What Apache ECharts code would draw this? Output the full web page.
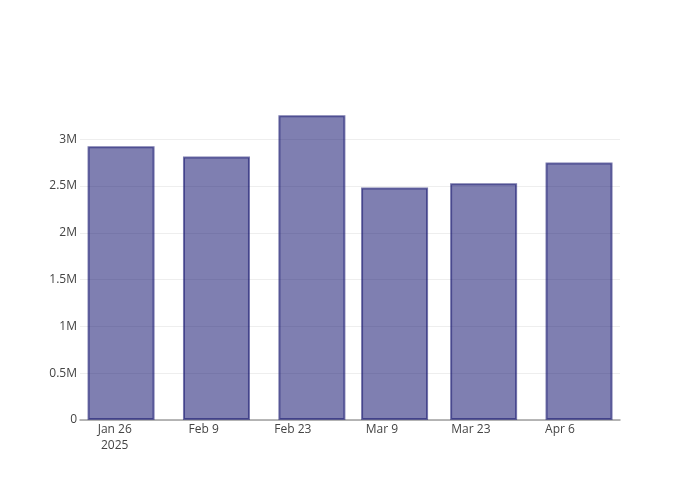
<!DOCTYPE html>
<html>
<head>
<meta charset="utf-8">
<script src="https://cdn.jsdelivr.net/npm/echarts@6/dist/echarts.min.js"></script>
<style>html,body{margin:0;padding:0;background:#fff}#c{width:700px;height:500px}</style>
</head>
<body>
<div id="c"></div>
<script>
const barDates = ['2025-01-27', '2025-02-11', '2025-02-26', '2025-03-11', '2025-03-25', '2025-04-09'];
const barValues = [2925000, 2815000, 3255000, 2485000, 2530000, 2750000];
const tickDates = ['2025-01-26', '2025-02-09', '2025-02-23', '2025-03-09', '2025-03-23', '2025-04-06'];
const tickLabels = ['Jan 26\n2025', 'Feb 9', 'Feb 23', 'Mar 9', 'Mar 23', 'Apr 6'];
const yTicks = [0, 500000, 1000000, 1500000, 2000000, 2500000, 3000000];

const DAY = 86400000;
const ts = s => Date.parse(s + 'T00:00:00Z');
const tickTs = tickDates.map(ts);
const xMin = ts('2025-01-26') - 5.455 * DAY;
const xMax = ts('2025-01-26') + 79.44 * DAY;

const chart = echarts.init(document.getElementById('c'), null, {renderer: 'canvas'});
chart.setOption({
  animation: false,
  backgroundColor: '#fff',
  textStyle: {fontFamily: 'Open Sans'},
  grid: {left: 80, right: 80, top: 100, bottom: 80, containLabel: false},
  xAxis: {
    type: 'value',
    min: xMin,
    max: xMax,
    axisLine: {show: true, onZero: false, lineStyle: {color: '#a0a0a0', width: 1.5}},
    axisTick: {show: false},
    splitLine: {show: false},
    axisLabel: {
      customValues: tickTs,
      color: '#444',
      fontSize: 12,
      fontFamily: 'Open Sans',
      margin: 2,
      lineHeight: 16,
      formatter: v => {
        const i = tickTs.indexOf(v);
        return i >= 0 ? tickLabels[i] : '';
      }
    }
  },
  yAxis: {
    type: 'value',
    min: 0,
    max: 3419000,
    axisLine: {show: false},
    axisTick: {show: false},
    splitLine: {show: true, showMaxLine: false, lineStyle: {color: '#eeeeee', width: 1}},
    axisLabel: {
      customValues: yTicks,
      color: '#444',
      fontSize: 12,
      fontFamily: 'Open Sans',
      margin: 3,
      formatter: v => v === 0 ? '0' : (v / 1e6) + 'M'
    }
  },
  series: [{
    type: 'bar',
    barWidth: 67,
    data: barDates.map((d, i) => [ts(d), barValues[i]]),
    itemStyle: {
      color: 'rgba(0,0,100,0.5)',
      borderColor: 'rgba(20,20,110,0.58)',
      borderWidth: 2
    }
  }]
});
</script>
</body>
</html>
